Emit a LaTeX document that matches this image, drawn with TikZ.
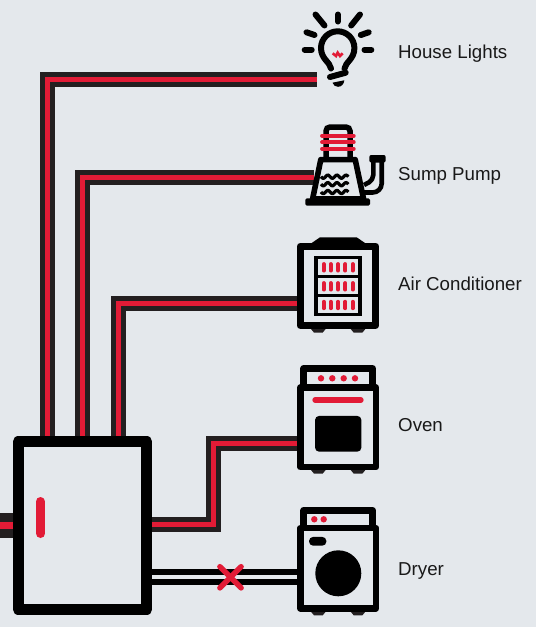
\documentclass[tikz,border=0pt]{standalone}
\usepackage{fontspec}
\setmainfont{Liberation Sans}
\usetikzlibrary{calc}
\definecolor{wallgray}{HTML}{E4E8EC}
\definecolor{cordblack}{HTML}{231F20}
\definecolor{livered}{HTML}{E21B36}

\begin{document}
\begin{tikzpicture}[
    x=1pt, y=-1pt,
    % Wire styles
    wire/.style={line width=15pt, draw=cordblack, postaction={draw=livered, line width=5pt}},
    feed/.style={line width=24.4pt, draw=cordblack, postaction={draw=livered, line width=7.6pt}},
    deadwire/.style={line width=15.7pt, draw=black, postaction={draw=wallgray, line width=4.3pt}},
    % Node styles
    cabinet/.style={draw=black, fill=wallgray, line width=6.5pt, line join=round, inner sep=0pt, outer sep=0pt, minimum width=75.6pt},
    lid/.style={draw=black, fill=wallgray, line width=7pt, line join=round, inner sep=0pt, outer sep=0pt, minimum width=68.7pt},
    devicename/.style={anchor=base west, inner sep=0pt, font=\fontsize{18.7}{20}\selectfont, text=black!90},
    % Icon styles
    iconline/.style={draw=black, line width=6pt, line cap=round},
    redstroke/.style={draw=livered, line width=5pt, line cap=round},
    lamp/.style={fill=livered},
    foot/.style={fill=cordblack},
]

    \useasboundingbox[fill=wallgray] (0,0) rectangle (536,627);

    % Wire ends
    \coordinate (lightsin) at (317,79);
    \coordinate (pumpin) at (314,177.7);
    \coordinate (coolerin) at (300,303);
    \coordinate (ovenin) at (300,443);
    \coordinate (dryerin) at (300,577.2);
    \coordinate (lightsout) at (47.5,445);
    \coordinate (pumpout) at (82.5,445);
    \coordinate (coolerout) at (118.3,445);
    \coordinate (ovenout) at (150,524.8);
    \coordinate (dryerout) at (150,577.2);
    \coordinate (mains) at (0,525.5);

    % Connections
    \draw[wire] (lightsout) |- (lightsin);
    \draw[wire] (pumpout) |- (pumpin);
    \draw[wire] (coolerout) |- (coolerin);
    \draw[wire] (ovenout) -- ++(63,0) |- (ovenin);
    \draw[deadwire] (dryerout) -- (dryerin);
    \draw[feed] (mains) -- ++(18,0);

    % Breaker panel
    \node[draw=black, fill=wallgray, line width=11pt, line join=round, inner sep=0pt, outer sep=0pt,
          minimum width=128.6pt, minimum height=168pt] (panel) at (82.5,525.5) {};
    \draw[redstroke, line width=9pt] (40.5,501.5) -- (40.5,533.5);

    % Cut wire
    \coordinate (cut) at (230.5,577.3);
    \draw[redstroke, line width=5.5pt] ($(cut)+(-10.6,-10.6)$) -- ($(cut)+(10.6,10.6)$);
    \draw[redstroke, line width=5.5pt] ($(cut)+(-10.6,10.6)$) -- ($(cut)+(10.6,-10.6)$);

    % House lights
    \draw[iconline] (337.8,14.5) -- (337.8,21.5);
    \draw[iconline] (315.5,14.5) -- (324.5,25.5);
    \draw[iconline] (360,14.5) -- (351.2,25.5);
    \draw[iconline] (306.5,32.3) -- (314.5,35);
    \draw[iconline] (368.7,32.3) -- (360.8,35);
    \draw[iconline] (304.7,49.7) -- (311.7,49.7);
    \draw[iconline] (364.5,49.7) -- (371.3,49.7);
    \draw[iconline] (331,68.5) .. controls (330,62) and (321,59) .. (321,48)
        arc[start angle=180, end angle=360, radius=16.7]
        .. controls (354.4,59) and (345.5,62) .. (344.5,68.5);
    \draw[iconline] (330,77) -- (345.7,72.7);
    \fill[black] (332.5,82.7) -- (344.3,80.3) .. controls (344,84) and (341.5,86.8) .. (338,86.8) .. controls (335.5,86.8) and (333.5,85.5) .. cycle;
    \draw[redstroke, line width=2.6pt, line cap=butt] (332.7,53.3) -- (336,56) -- (337.7,52.7) -- (340,56) -- (342.7,53.3);

    % Sump pump
    \draw[iconline, line width=5.5pt, line cap=butt, rounded corners=4pt] (326,158) -- (326,127) -- (350,127) -- (350,158);
    \foreach \sy in {135.7,142.2,148.7}
        \draw[redstroke, line width=3.8pt] (322,\sy) -- (353.8,\sy);
    \draw[draw=black, line width=4.6pt, rounded corners=5pt] (364,185) -- (373.3,180) -- (373.3,160);
    \draw[draw=black, line width=4.6pt, rounded corners=9pt] (364,192.5) -- (381.7,192.5) -- (381.7,160);
    \fill[black, rounded corners=2pt] (369.3,155) rectangle (385.7,162.5);
    \draw[draw=black, fill=wallgray, line width=5.6pt, line join=round] (320.8,159.6) -- (355.2,159.6) -- (363.6,199) -- (312.6,199) -- cycle;
    \fill[black, rounded corners=1.5pt] (305.3,198.3) rectangle (370,205.7);
    \foreach \wy in {176.7,184.2,192}
        \draw[draw=black, line width=3.2pt] plot[domain=0:27.3, samples=40, smooth] ({321+\x},{\wy+1.6*sin(\x*360/9.1)});

    % Feet under the cabinets
    \foreach \fy in {329,470,611.7}
        \foreach \fx in {311,350.7}
            \fill[foot] (\fx,\fy) -- ++(14.7,0) -- ++(-3,3.6) -- ++(-8.7,0) -- cycle;

    % Air conditioner
    \fill[black] (311.7,243) -- (320,237.3) -- (356.7,237.3) -- (365,243) -- cycle;
    \node[cabinet, line width=7.3pt, minimum width=75.4pt, minimum height=79pt] (cooler) at (338,285.9) {};
    \node[draw=black, line width=3.3pt, inner sep=0pt, outer sep=0pt, minimum width=44pt, minimum height=56.6pt] (coolerrack) at (338,286) {};
    \draw[draw=black, line width=3.3pt] (316,276.7) -- (360,276.7);
    \draw[draw=black, line width=3.3pt] (316,295.7) -- (360,295.7);
    \foreach \ry in {264,283,301.7}
        \foreach \rx in {323.7,330.7,338,345.3,352.7}
            \draw[redstroke, line width=3.8pt] (\rx,\ry) -- ++(0,6.6);

    % Oven
    \node[lid, minimum height=19pt] (ovenlid) at (338.2,378) {};
    \node[cabinet, minimum height=79.5pt] (oven) at (338.2,427.3) {};
    \foreach \dx in {321,332.3,343.7,355}
        \fill[lamp] (\dx,378.3) circle[radius=3.2];
    \draw[redstroke, line width=5.3pt] (315,400) -- (361,400);
    \node[fill=black, rounded corners=4pt, inner sep=0pt, outer sep=0pt, minimum width=46.3pt, minimum height=35.7pt] (ovendoor) at (338.2,433.8) {};

    % Dryer
    \node[lid, minimum height=18pt] (dryerlid) at (338.2,519.3) {};
    \node[cabinet, minimum height=80.3pt] (dryer) at (338.2,568.3) {};
    \foreach \dx in {314.3,323.7}
        \fill[lamp] (\dx,519.3) circle[radius=3.2];
    \node[fill=black, rounded corners=4pt, inner sep=0pt, outer sep=0pt, minimum width=17.3pt, minimum height=8.7pt] (dryerdial) at (317.7,541.3) {};
    \node[circle, fill=black, inner sep=0pt, outer sep=0pt, minimum size=46pt] (dryerdrum) at (338.3,573.3) {};

    % Labels
    \node[devicename] (lightsname) at (398,58) {House Lights};
    \node[devicename] (pumpname) at (398,180) {Sump Pump};
    \node[devicename] (coolername) at (398,290) {Air Conditioner};
    \node[devicename] (ovenname) at (398,431) {Oven};
    \node[devicename] (dryername) at (398,575) {Dryer};

\end{tikzpicture}
\end{document}
